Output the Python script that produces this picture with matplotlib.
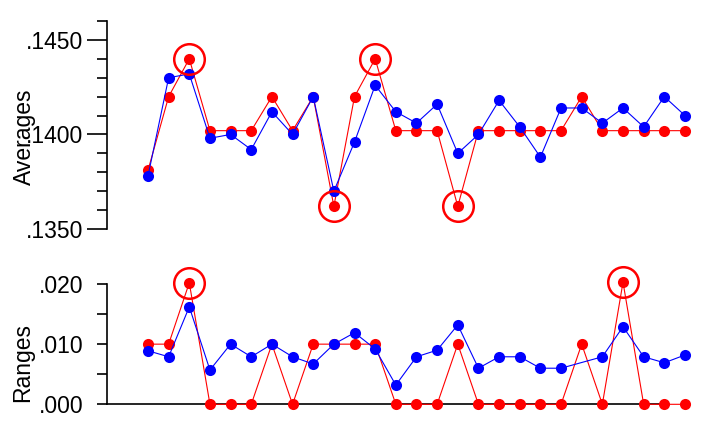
import matplotlib
matplotlib.use('Agg')
import matplotlib.pyplot as plt
import numpy as np

plt.rcParams['font.family'] = ['Liberation Sans', 'DejaVu Sans']

# sample numbers 0..26
samples = np.arange(27)

avg_red = [0.1381, 0.1420, 0.1440, 0.1402, 0.1402, 0.1402, 0.1420, 0.1402, 0.1420,
           0.1362, 0.1420, 0.1440, 0.1402, 0.1402, 0.1402, 0.1362, 0.1402, 0.1402,
           0.1402, 0.1402, 0.1402, 0.1420, 0.1402, 0.1402, 0.1402, 0.1402, 0.1402]
avg_blue = [0.1378, 0.1430, 0.1432, 0.1398, 0.1400, 0.1392, 0.1412, 0.1400, 0.1420,
            0.1370, 0.1396, 0.1426, 0.1412, 0.1406, 0.1416, 0.1390, 0.1400, 0.1418,
            0.1404, 0.1388, 0.1414, 0.1414, 0.1406, 0.1414, 0.1404, 0.1420, 0.1410]

rng_red = [0.010, 0.010, 0.0202, 0.000, 0.000, 0.000, 0.010, 0.000, 0.010,
           0.010, 0.010, 0.010, 0.000, 0.000, 0.000, 0.010, 0.000, 0.000,
           0.000, 0.000, 0.000, 0.010, 0.000, 0.0203, 0.000, 0.000, 0.000]
rng_blue = [0.0089, 0.0079, 0.0162, 0.0057, 0.010, 0.0079, 0.010, 0.0079, 0.0067,
            0.010, 0.0119, 0.0092, 0.0032, 0.0079, 0.0090, 0.0132, 0.0060, 0.0079,
            0.0079, 0.0060, 0.0060, np.nan, 0.0079, 0.0129, 0.0079, 0.0069, 0.0082]

avg_flags = [2, 9, 11, 15]
rng_flags = [2, 23]

avg_ticks = [0.1350, 0.1400, 0.1450]
rng_ticks = [0.000, 0.010, 0.020]


def dotfmt(v, nd):
    s = f"{v:.{nd}f}"
    return s[1:] if s.startswith('0') else s


fig = plt.figure(figsize=(7.04, 4.28), dpi=100)
ax1 = fig.add_axes([107.3 / 704, 1 - 229 / 428, 559.7 / 704, 208 / 428])
ax2 = fig.add_axes([107.3 / 704, 1 - 404.3 / 428, 559.7 / 704, 120.3 / 428])

for ax, red, blue, flags in [(ax1, avg_red, avg_blue, avg_flags),
                             (ax2, rng_red, rng_blue, rng_flags)]:
    red = np.array(red)
    blue = np.array(blue)
    ok = ~np.isnan(blue)
    ax.plot(samples, red, '-o', color='#ff0000', lw=0.8, ms=8, mew=0, clip_on=False, zorder=3)
    ax.plot(samples[ok], blue[ok], '-o', color='#0000ff', lw=0.8, ms=8, mew=0, clip_on=False, zorder=4)
    ax.plot(samples[flags], red[flags], 'o', mfc='none', mec='#ff0000', ms=22, mew=1.8,
            clip_on=False, zorder=5)
    ax.set_xlim(-1.97, 25.13)
    ax.set_xticks([])
    for s in ['top', 'right']:
        ax.spines[s].set_visible(False)
    ax.spines['left'].set_linewidth(1.2)

ax1.spines['bottom'].set_visible(False)
ax1.set_ylim(0.1350, 0.1460)
ax1.set_yticks(avg_ticks)
ax1.set_yticklabels([dotfmt(v, 4) for v in avg_ticks])
ax1.set_yticks(np.arange(0.1350, 0.14601, 0.001), minor=True)
ax1.tick_params(axis='y', which='major', length=14.5, width=1.2, labelsize=16.5, pad=3)
ax1.tick_params(axis='y', which='minor', length=7.2, width=1.2)

ax2.spines['bottom'].set_linewidth(1.2)
ax2.set_ylim(0.0, 0.020)
ax2.set_yticks(rng_ticks)
ax2.set_yticklabels([dotfmt(v, 3) for v in rng_ticks])
ax2.set_yticks([0.005, 0.015], minor=True)
ax2.tick_params(axis='y', which='major', length=7.2, width=1.2, labelsize=16.5, pad=10)
ax2.tick_params(axis='y', which='minor', length=7.2, width=1.2)
ax2.tick_params(axis='x', length=0)

fig.text(24 / 704, 1 - 137 / 428, 'Averages', rotation=90, ha='center', va='center', fontsize=16.5)
fig.text(23 / 704, 1 - 362 / 428, 'Ranges', rotation=90, ha='center', va='center', fontsize=16.5)

fig.savefig('out.png', dpi=100)
